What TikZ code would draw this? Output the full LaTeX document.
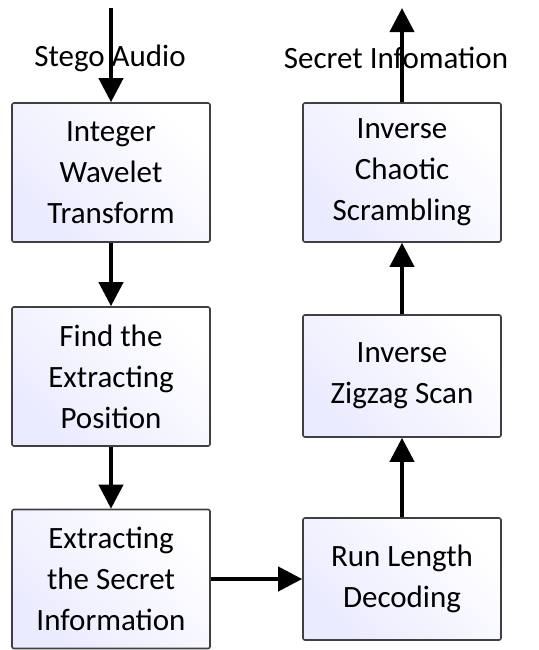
\documentclass[tikz,border=0pt]{standalone}
\usepackage{fontspec}
\setmainfont{Carlito}
\usetikzlibrary{arrows.meta,positioning}

\begin{document}
\begin{tikzpicture}[x=0.5pt,y=-0.5pt,
font=\fontsize{15.5pt}{20.5pt}\selectfont,
flow/.style={-{Triangle[width=12pt,length=12pt]},line width=2pt},
stepbox/.style={rectangle,draw=black!75,line width=0.8pt,rounded corners=1pt,
    left color=blue!8!white,right color=white,shading angle=135,
    minimum width=99pt,align=center,inner sep=2pt},
tall/.style={stepbox,minimum height=69.5pt},
short/.style={stepbox,minimum height=61pt}]
\useasboundingbox (0,0) rectangle (538,650);
% left column
\node[tall] (IWT) at (111,172.5) {Integer\\Wavelet\\Transform};
\node[tall] (Find) at (111,376.5) {Find the\\Extracting\\Position};
\node[tall] (Extract) at (111,579) {Extracting\\the Secret\\Information};
% right column
\node[short] (RLD) at (402,579) {Run Length\\Decoding};
\node[short] (Zigzag) at (402,376) {Inverse\\Zigzag Scan};
\node[tall] (Chaos) at (402,172.5) {Inverse\\Chaotic\\Scrambling};
% inputs and outputs
\node (StegoLbl) at (110,58) {Stego Audio};
\node (SecretLbl) at (396,58) {Secret Infomation};
\coordinate (In) at (111,8);
\coordinate (Out) at (402,8);
\draw[flow] (In) -- (IWT);
\draw[flow] (IWT) -- (Find);
\draw[flow] (Find) -- (Extract);
\draw[flow] (Extract) -- (RLD);
\draw[flow] (RLD) -- (Zigzag);
\draw[flow] (Zigzag) -- (Chaos);
\draw[flow] (Chaos) -- (Out);
\end{tikzpicture}
\end{document}
